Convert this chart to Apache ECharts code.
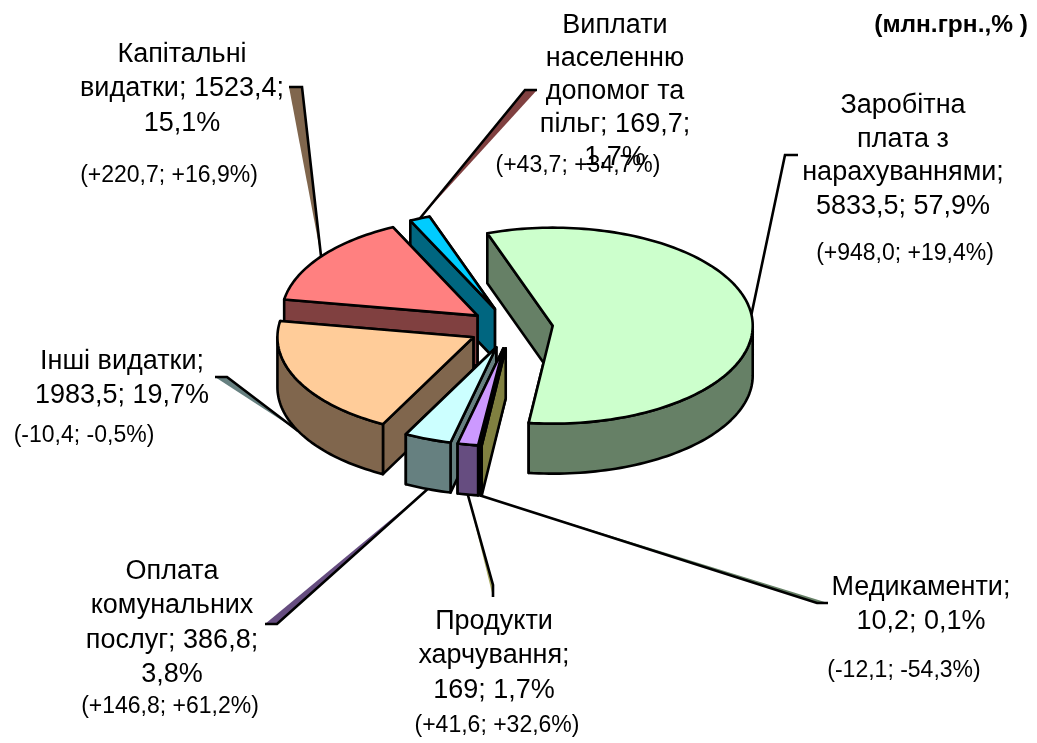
<!DOCTYPE html>
<html><head><meta charset="utf-8">
<style>html,body{margin:0;padding:0;background:#fff}#c{width:1037px;height:743px}</style>
<script src="https://cdn.jsdelivr.net/npm/echarts@6/dist/echarts.min.js"></script>
</head><body><div id="c"></div>
<script>
// ---- data ----
const categories = ['Заробітна плата з нарахуваннями','Медикаменти','Продукти харчування','Оплата комунальних послуг','Інші видатки','Капітальні видатки','Виплати населенню допомог та пільг'];
const values = [5833.5, 10.2, 169, 386.8, 1983.5, 1523.4, 169.7];
const labelLines = [
  ['Заробітна','плата з','нарахуваннями;','5833,5; 57,9%'],
  ['Медикаменти;','10,2; 0,1%'],
  ['Продукти','харчування;','169; 1,7%'],
  ['Оплата','комунальних','послуг; 386,8;','3,8%'],
  ['Інші видатки;','1983,5; 19,7%'],
  ['Капітальні','видатки; 1523,4;','15,1%'],
  ['Виплати','населенню','допомог та','пільг; 169,7;','1,7%']
];
const changes = ['(+948,0; +19,4%)','(-12,1; -54,3%)','(+41,6; +32,6%)','(+146,8; +61,2%)','(-10,4; -0,5%)','(+220,7; +16,9%)','(+43,7; +34,7%)'];
const unitNote = '(млн.грн.,% )';

// ---- styles and layout ----
const topColors  = ['#CCFFCC','#FFFF80','#CC99FF','#CCFFFF','#FFCC99','#FF8080','#00CCFF'];
const wallColors = ['#668066','#808040','#664D80','#668080','#80664D','#804040','#006680'];
const wedgeColors = [null,'#668066','#A8A860','#664D80','#668080','#80664D','#804040'];
const drawOrder = [6,5,4,0,3,2,1];
const PIE = {cx:511, cy:328, rx:200, rxLeft:196, ry:98, depth:50, explode:42, startDeg:-20.5, warp:1};
const labelCenters = [[903,105.5],[921,588],[494,621.5],[172,571.5],[122,361.5],[182,54.5],[615,26]];
const labelStep = [33.6,33.6,34.5,34.5,34.5,34.5,32.8];
const changeCenters = [[905,254],[904,671],[497,726],[170,707],[84,436],[169,176],[578,166]];
// leader tips: [elbow joined by the black line, outer end of the short tick]
const leaderTips = [[[785,155],[798,155]],[[817,603],[828,603]],[[493,585],[493,597]],[[277,624],[265,624]],[[227,377],[215,377]],[[302,87],[289,87]],[[525,90],[537,90]]];

const FONT = '"Liberation Sans", Arial, sans-serif';
const total = values.reduce((a,b)=>a+b,0);
const rad = d => d*Math.PI/180;
// slight perspective skew of the pie angles seen in the 3-D view
const proj = d => d + PIE.warp*Math.cos(rad(d-PIE.startDeg));
const slices = (()=>{let a=PIE.startDeg;return values.map(v=>{const s=a,e=a+v/total*360;a=e;return {s:proj(s),e:proj(e),m:proj((s+e)/2)};});})();
function apexOf(sl){return [PIE.cx+PIE.explode*Math.sin(rad(sl.m)), PIE.cy-PIE.explode*Math.cos(rad(sl.m))*PIE.ry/PIE.rx];}
function rim(ap,d){const s=Math.sin(rad(d));return [ap[0]+(s<0?PIE.rxLeft:PIE.rx)*s, ap[1]-PIE.ry*Math.cos(rad(d))];}
function arcPts(ap,a,b){const n=Math.max(2,Math.ceil(Math.abs(b-a)/1.5)),r=[];for(let i=0;i<=n;i++)r.push(rim(ap,a+(b-a)*i/n));return r;}
const down=(p)=>[p[0],p[1]+PIE.depth];
const strokeW=2.6;
function poly(points,fill,w){return {type:'polygon',shape:{points},style:{fill,stroke:'#000',lineWidth:w||strokeW,lineJoin:'round'}};}

function renderSlice(params,api){
  const i=api.value(0), sl=slices[i], ap=apexOf(sl), kids=[];
  const wall=wallColors[i];
  const pS=rim(ap,sl.s), pE=rim(ap,sl.e);
  kids.push(poly([ap,pE,down(pE),down(ap)],wall));
  kids.push(poly([ap,pS,down(pS),down(ap)],wall));
  const a=Math.max(sl.s,90), b=Math.min(sl.e,270);
  if(b>a){const arc=arcPts(ap,a,b);kids.push(poly(arc.concat(arc.slice().reverse().map(down)),wall));}
  kids.push(poly([ap].concat(arcPts(ap,sl.s,sl.e)),topColors[i]));
  return {type:'group',children:kids};
}
function leaderFrom(i){
  const sl=slices[i], ap=apexOf(sl), p=rim(ap,sl.m);
  const c=Math.cos(rad(sl.m));
  return c<-0.1||(sl.m>200&&sl.m<270)?down(p):p;
}
function renderLeader(params,api){
  const i=api.value(0), f=leaderFrom(i), t=leaderTips[i], kids=[];
  if(wedgeColors[i]) kids.push({type:'polygon',shape:{points:[f,t[1],t[0]]},style:{fill:wedgeColors[i],stroke:null}});
  kids.push({type:'polyline',shape:{points:[f,t[0],t[1]]},style:{fill:null,stroke:'#000',lineWidth:strokeW,lineJoin:'miter'}});
  return {type:'group',children:kids};
}
function renderLabel(params,api){
  const i=api.value(0), kids=[];
  labelLines[i].forEach((line,k)=>kids.push({type:'text',x:labelCenters[i][0],y:labelCenters[i][1]+k*labelStep[i],
    style:{text:line,fill:'#000',font:'27px '+FONT,textAlign:'center',textVerticalAlign:'middle'}}));
  kids.push({type:'text',x:changeCenters[i][0],y:changeCenters[i][1],
    style:{text:changes[i],fill:'#000',font:'23px '+FONT,textAlign:'center',textVerticalAlign:'middle'}});
  return {type:'group',children:kids};
}
const chart=echarts.init(document.getElementById('c'),null,{renderer:'canvas'});
const idx=values.map((v,i)=>[i,v,categories[i]]);
chart.setOption({
  animation:false,
  backgroundColor:'#fff',
  graphic:[{type:'text',right:9,top:13,style:{text:unitNote,fill:'#000',font:'bold 24.5px '+FONT}}],
  series:[
    {type:'custom',coordinateSystem:'none',silent:true,z:1,renderItem:renderLeader,data:idx},
    {type:'custom',coordinateSystem:'none',silent:true,z:2,renderItem:renderSlice,data:drawOrder.map(i=>idx[i])},
    {type:'custom',coordinateSystem:'none',silent:true,z:3,renderItem:renderLabel,data:idx}
  ]
});
</script></body></html>
